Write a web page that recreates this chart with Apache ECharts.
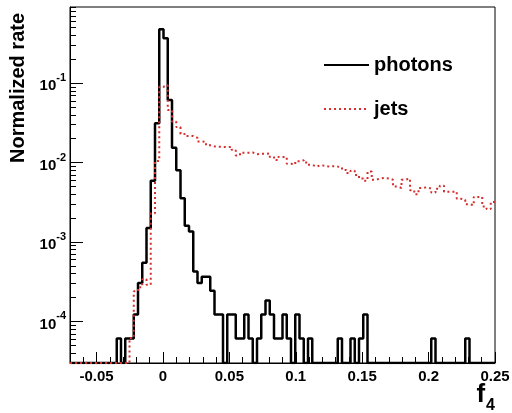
<!DOCTYPE html>
<html>
<head>
<meta charset="utf-8">
<script src="https://cdn.jsdelivr.net/npm/echarts@6/dist/echarts.min.js"></script>
<style>
  html, body { margin: 0; padding: 0; background: #fff; }
  #chart { width: 512px; height: 413px; }
</style>
</head>
<body>
<div id="chart"></div>
<script>
// f4 shape variable: normalized rate per bin, 100 bins between -0.07 and 0.25
const binMin = -0.07;
const binMax = 0.25;
const nBins = 100;

// Photon candidates (normalized rate per bin, 0 = empty bin)
const photons = [
  0, 0, 0, 0, 0, 0, 0, 0, 0, 0,
  0, 6.1e-5, 0, 6.1e-5, 6.1e-5, 1.22e-4, 3.05e-4, 5.5e-4, 1.5e-3, 5.9e-3,
  3.14e-2, 0.477, 0.368, 0.0616, 0.0154, 0.0080, 3.57e-3, 1.60e-3, 1.36e-3, 4.27e-4,
  3.05e-4, 3.66e-4, 3.66e-4, 2.44e-4, 1.22e-4, 1.22e-4, 0, 1.22e-4, 1.22e-4, 6.1e-5,
  6.1e-5, 1.22e-4, 6.1e-5, 0, 6.1e-5, 1.22e-4, 1.83e-4, 1.22e-4, 6.1e-5, 6.1e-5,
  1.22e-4, 6.1e-5, 0, 1.22e-4, 6.1e-5, 0, 6.1e-5, 0, 0, 0,
  0, 0, 0, 6.1e-5, 0, 0, 6.1e-5, 0, 6.1e-5, 1.22e-4,
  0, 0, 0, 0, 0, 0, 0, 0, 0, 0,
  0, 0, 0, 0, 0, 6.1e-5, 0, 0, 0, 0,
  0, 0, 0, 6.1e-5, 0, 0, 0, 0, 0, 0
];

// Jet background (normalized rate per bin, 0 = empty bin)
const jets = [
  0, 0, 0, 0, 0, 0, 0, 0, 0, 0,
  0, 0, 0, 0, 6.2e-5, 2.4e-4, 2.7e-4, 3.4e-4, 2.9e-4, 2.3e-3,
  1.05e-2, 0.090, 0.095, 0.046, 0.0326, 0.028, 0.0230, 0.0217, 0.0217, 0.0205,
  0.0185, 0.0183, 0.0165, 0.0160, 0.0158, 0.0158, 0.0156, 0.0158, 0.0145, 0.0123,
  0.0133, 0.0133, 0.0134, 0.0127, 0.0129, 0.0129, 0.0130, 0.0118, 0.0108, 0.0118,
  0.0118, 0.0097, 0.0095, 0.0104, 0.0107, 0.0100, 0.0094, 0.0089, 0.0093, 0.0091,
  0.0089, 0.0090, 0.0089, 0.0087, 0.0081, 0.0074, 0.0079, 0.0070, 0.0063, 0.0059,
  0.0077, 0.0061, 0.0063, 0.0064, 0.0063, 0.0061, 0.0050, 0.0048, 0.0061, 0.0063,
  0.0045, 0.0040, 0.0048, 0.0049, 0.0047, 0.0042, 0.0047, 0.0051, 0.0043, 0.0043,
  0.0043, 0.0035, 0.0034, 0.0030, 0.0029, 0.0037, 0.0037, 0.0028, 0.0026, 0.0032
];

// Axis ranges and ticks
const yMin = 3.0e-5;
const yMax = 0.91;
const xMajorTicks = [-0.05, 0, 0.05, 0.1, 0.15, 0.2, 0.25];
const xMinorTicks = [-0.06, -0.04, -0.03, -0.02, -0.01, 0.01, 0.02, 0.03, 0.04,
  0.06, 0.07, 0.08, 0.09, 0.11, 0.12, 0.13, 0.14, 0.16, 0.17, 0.18, 0.19,
  0.21, 0.22, 0.23, 0.24];
const yMajorTicks = [1e-4, 1e-3, 1e-2, 1e-1];
const yMinorTicks = [4e-5, 5e-5, 6e-5, 7e-5, 8e-5, 9e-5,
  2e-4, 3e-4, 4e-4, 5e-4, 6e-4, 7e-4, 8e-4, 9e-4,
  2e-3, 3e-3, 4e-3, 5e-3, 6e-3, 7e-3, 8e-3, 9e-3,
  2e-2, 3e-2, 4e-2, 5e-2, 6e-2, 7e-2, 8e-2, 9e-2,
  0.2, 0.3, 0.4, 0.5, 0.6, 0.7, 0.8, 0.9];

const FONT = '"Liberation Sans", Arial, Helvetica, sans-serif';

// Bin edge positions
function binEdge(i) {
  return +(binMin + i * (binMax - binMin) / nBins).toFixed(6);
}

// Step outline of a histogram: one point per left bin edge plus the closing edge.
// Empty bins sit on the bottom of the frame, as on a log-scaled histogram.
function histogramOutline(values) {
  const pts = values.map((v, i) => [binEdge(i), v > 0 ? v : yMin]);
  const last = values[values.length - 1];
  pts.push([binMax, last > 0 ? last : yMin]);
  return pts;
}

const chart = echarts.init(document.getElementById('chart'), null, { renderer: 'canvas' });

const tickStyle = { color: '#000', width: 1 };

chart.setOption({
  animation: false,
  backgroundColor: '#fff',
  grid: {
    left: 70, right: 17, top: 7, bottom: 50,
    show: true, borderColor: '#000', borderWidth: 1,
    backgroundColor: 'transparent',
    outerBoundsMode: 'none'
  },
  legend: {
    data: ['photons', 'jets'],
    orient: 'vertical',
    left: 323, top: 55,
    padding: 0,
    itemWidth: 45, itemHeight: 20, itemGap: 24,
    itemStyle: { opacity: 0 },
    textStyle: { fontFamily: FONT, fontSize: 20, fontWeight: 'bold', color: '#000' }
  },
  xAxis: [
    {
      type: 'value', min: binMin, max: binMax, position: 'bottom',
      axisLine: { onZero: false, lineStyle: { color: '#000', width: 1 } },
      splitLine: { show: false },
      axisTick: { inside: true, length: 11, customValues: xMajorTicks, lineStyle: tickStyle },
      axisLabel: {
        customValues: xMajorTicks,
        formatter: v => String(+v.toFixed(4)),
        fontFamily: FONT, fontSize: 15, fontWeight: 'bold', color: '#000', margin: 6
      },
      name: '{f|f}{s|4}',
      nameLocation: 'end',
      nameGap: 0,
      nameMoveOverlap: false,
      nameTextStyle: {
        align: 'right', verticalAlign: 'top', padding: [19, 0, 0, 0],
        rich: {
          f: { fontFamily: FONT, fontSize: 26, fontWeight: 'bold', color: '#000', lineHeight: 26, verticalAlign: 'top' },
          s: { fontFamily: FONT, fontSize: 16, fontWeight: 'bold', color: '#000', lineHeight: 16, verticalAlign: 'top', padding: [16, 0, 0, 1] }
        }
      }
    },
    {
      type: 'value', min: binMin, max: binMax, position: 'bottom',
      axisLine: { show: false, onZero: false },
      splitLine: { show: false },
      axisLabel: { show: false },
      axisTick: { inside: true, length: 6, customValues: xMinorTicks, lineStyle: tickStyle }
    }
  ],
  yAxis: [
    {
      type: 'log', logBase: 10, min: yMin, max: yMax, position: 'left',
      axisLine: { show: true, onZero: false, lineStyle: { color: '#000', width: 1 } },
      splitLine: { show: false },
      axisTick: { inside: true, length: 13, customValues: yMajorTicks, lineStyle: tickStyle },
      axisLabel: {
        customValues: yMajorTicks,
        margin: 4,
        formatter: v => '{b|10}{e|' + Math.round(Math.log10(v)) + '}',
        rich: {
          b: { fontFamily: FONT, fontSize: 15, fontWeight: 'bold', color: '#000', padding: [6, 0, 0, 0] },
          e: { fontFamily: FONT, fontSize: 11, fontWeight: 'bold', color: '#000', verticalAlign: 'top' }
        }
      },
      name: 'Normalized rate',
      nameLocation: 'middle',
      nameGap: 45,
      nameTextStyle: {
        fontFamily: FONT, fontSize: 20, fontWeight: 'bold', color: '#000',
        align: 'left', verticalAlign: 'middle', padding: [0, 0, 0, 22]
      }
    },
    {
      type: 'log', logBase: 10, min: yMin, max: yMax, position: 'left',
      axisLine: { show: false, onZero: false },
      splitLine: { show: false },
      axisLabel: { show: false },
      axisTick: { inside: true, length: 6, customValues: yMinorTicks, lineStyle: tickStyle }
    }
  ],
  series: [
    {
      name: 'photons', type: 'line', step: 'end',
      xAxisIndex: 0, yAxisIndex: 0,
      symbol: 'none',
      data: histogramOutline(photons),
      lineStyle: { color: '#000', width: 2.5, type: 'solid' },
      itemStyle: { color: '#000' },
      z: 3
    },
    {
      name: 'jets', type: 'line', step: 'end',
      xAxisIndex: 0, yAxisIndex: 0,
      symbol: 'none',
      data: histogramOutline(jets),
      lineStyle: { color: '#d62d2d', width: 2, type: [2, 3] },
      itemStyle: { color: '#d62d2d' },
      z: 4
    }
  ]
});
</script>
</body>
</html>
